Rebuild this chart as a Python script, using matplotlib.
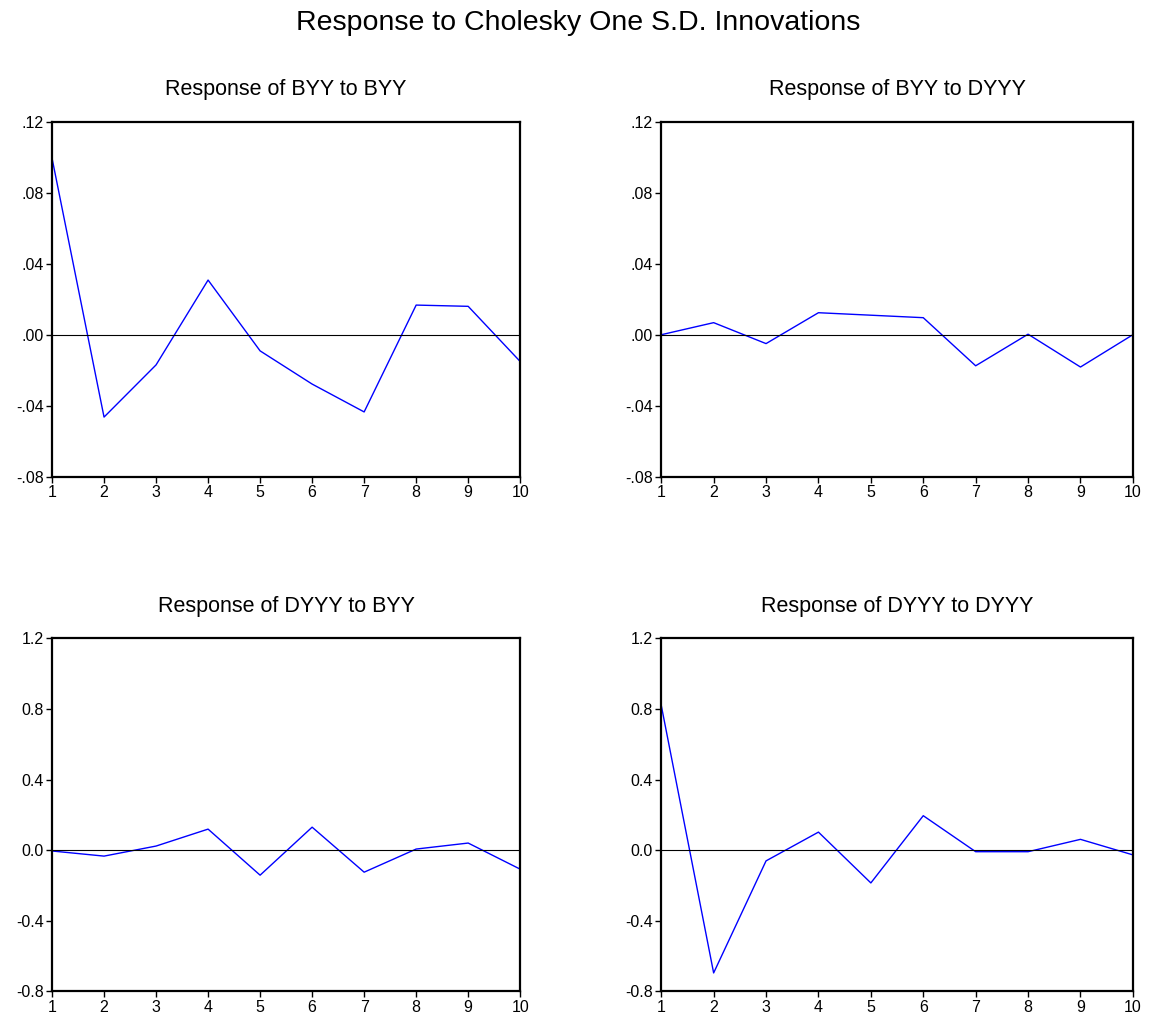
import numpy as np
import matplotlib.pyplot as plt

plt.rcParams['font.family'] = ['Liberation Sans', 'DejaVu Sans']

# impulse response periods
periods = np.arange(1, 11)

# Response of BYY
byy_to_byy = [0.0995, -0.0464, -0.0170, 0.0308, -0.0091, -0.0278, -0.0435, 0.0167, 0.0160, -0.0151]
byy_to_dyyy = [0.0000, 0.0068, -0.0050, 0.0124, 0.0110, 0.0096, -0.0175, 0.0003, -0.0182, 0.0000]

# Response of DYYY
dyyy_to_byy = [-0.005, -0.034, 0.023, 0.119, -0.142, 0.130, -0.125, 0.006, 0.040, -0.108]
dyyy_to_dyyy = [0.821, -0.696, -0.061, 0.102, -0.186, 0.195, -0.009, -0.009, 0.061, -0.027]

titles = ["Response of BYY to BYY", "Response of BYY to DYYY",
          "Response of DYYY to BYY", "Response of DYYY to DYYY"]
series = [byy_to_byy, byy_to_dyyy, dyyy_to_byy, dyyy_to_dyyy]

top_ticks = [-0.08, -0.04, 0.0, 0.04, 0.08, 0.12]
top_labels = ["-.08", "-.04", ".00", ".04", ".08", ".12"]
bot_ticks = [-0.8, -0.4, 0.0, 0.4, 0.8, 1.2]
bot_labels = ["-0.8", "-0.4", "0.0", "0.4", "0.8", "1.2"]

fig = plt.figure(figsize=(11.56, 10.23), dpi=100)

# axes boxes in figure fractions: left, bottom, width, height
boxes = [
    [0.045, 0.534, 0.405, 0.347],
    [0.572, 0.534, 0.408, 0.347],
    [0.045, 0.031, 0.405, 0.345],
    [0.572, 0.031, 0.408, 0.345],
]

for i in range(4):
    ax = fig.add_axes(boxes[i])
    ax.plot(periods, series[i], color='#0000ff', lw=1.0)
    ax.axhline(0, color='black', lw=0.8)
    ax.set_xlim(1, 10)
    ax.set_xticks(periods)
    if i < 2:
        ax.set_ylim(-0.08, 0.12)
        ax.set_yticks(top_ticks)
        ax.set_yticklabels(top_labels)
    else:
        ax.set_ylim(-0.8, 1.2)
        ax.set_yticks(bot_ticks)
        ax.set_yticklabels(bot_labels)
    ax.set_title(titles[i], fontsize=15.5, pad=19)
    ax.tick_params(labelsize=11.5, length=4, width=1, direction='out', pad=2)
    for sp in ax.spines.values():
        sp.set_linewidth(1.6)

fig.suptitle("Response to Cholesky One S.D. Innovations", fontsize=20.5, y=0.978, va='center')

plt.savefig("out.png", dpi=100)
